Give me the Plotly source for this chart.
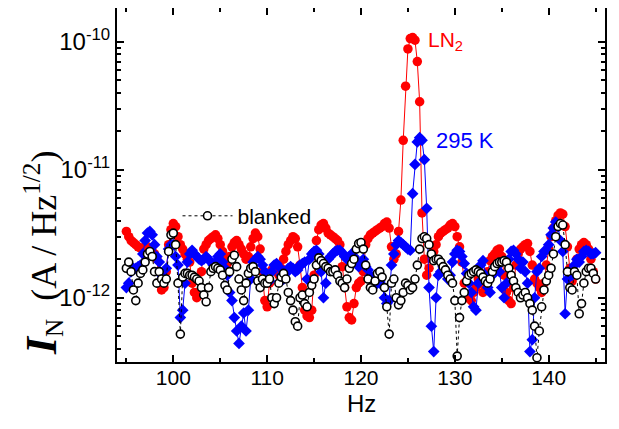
import numpy as np
import plotly.graph_objects as go

# frequency grid (Hz), 0.25 Hz bins from 95 to 145
freq_start, freq_step, n_pts = 95.0, 0.25, 201
freq = np.round(freq_start + freq_step * np.arange(n_pts), 2)

# noise current density in units of 1e-12 A/Hz^1/2
ln2 = [
    3.3, 3.0, 2.8, 2.7, 2.6, 2.5, 2.45, 2.4,            # 95-96.75
    2.5, 2.5, 2.4, 2.3, 2.2, 2.0, 1.3, 1.15,            # 97-98.75
    1.2, 1.6, 2.6, 3.4, 3.8, 3.6, 3.0, 2.6,             # 99-100.75
    2.4, 2.2, 2.0, 1.9, 1.3, 1.1, 1.0, 1.1,             # 101-102.75
    1.6, 2.4, 2.6, 2.8, 2.9, 3.0, 3.1, 2.9,             # 103-104.75
    2.6, 2.3, 2.0, 1.85, 2.1, 2.5, 2.7, 2.8,            # 105-106.75
    2.6, 2.4, 2.2, 2.0, 2.1, 2.5, 2.9, 3.2,             # 107-108.75
    3.0, 2.4, 1.6, 0.95, 0.85, 1.3, 1.65, 1.75,         # 109-110.75
    1.6, 1.5, 1.7, 2.0, 2.3, 2.6, 2.8, 3.0,             # 111-112.75
    2.9, 2.5, 1.8, 1.2, 0.8, 0.72, 0.7, 0.8,            # 113-114.75
    1.5, 2.8, 3.4, 3.7, 3.8, 3.5, 3.2, 3.1,             # 115-116.75
    3.0, 2.9, 2.8, 2.6, 1.75, 1.2, 0.85, 0.7,           # 117-118.75
    0.67, 0.9, 1.2, 1.3, 1.35, 1.6, 2.6, 2.9,           # 119-120.75
    3.1, 3.2, 3.3, 3.4, 3.5, 3.6, 3.8, 3.9,             # 121-122.75
    3.5, 2.5, 2.0, 2.2, 3.3, 5.8, 17.0, 45.0,           # 123-124.75
    88.0, 106.0, 108.0, 103.0, 70.0, 34.0, 4.6, 2.0,    # 125-126.75
    1.5, 1.7, 2.0, 2.3, 2.6, 3.0, 3.2, 3.3,             # 127-128.75
    3.4, 3.5, 3.7, 3.8, 3.6, 3.0, 2.5, 1.9,             # 129-130.75
    1.3, 1.0, 1.05, 0.95, 1.1, 1.2, 1.4, 1.3,           # 131-132.75
    1.1, 1.3, 1.6, 1.95, 2.1, 2.2, 2.35, 2.4,           # 133-134.75
    2.1, 1.5, 1.1, 0.95, 0.9, 1.2, 1.8, 2.2,            # 135-136.75
    2.4, 2.5, 2.6, 2.65, 2.3, 1.8, 1.4, 1.3,            # 137-138.75
    1.2, 1.1, 1.3, 1.8, 2.4, 3.0, 3.5, 4.0,             # 139-140.75
    4.4, 4.6, 4.5, 3.6, 2.5, 1.7, 1.35, 1.5,            # 141-142.75
    2.0, 2.4, 2.6, 2.7, 2.6, 2.4, 2.0, 1.6,             # 143-144.75
    1.4,                                                # 145
]

room = [
    1.2, 1.3, 1.6, 1.7, 1.7, 1.75, 1.8, 2.2,            # 95
    2.8, 3.2, 3.3, 3.1, 2.6, 2.1, 1.9, 1.5,             # 97
    1.4, 1.7, 2.4, 2.6, 2.6, 2.1, 1.8, 0.7,             # 99
    0.8, 1.3, 1.9, 2.2, 2.35, 2.2, 2.1, 2.0,            # 101
    1.95, 2.0, 2.1, 2.0, 1.9, 1.8, 1.9, 2.1,            # 103
    2.2, 1.9, 1.7, 1.5, 1.1, 0.95, 0.7, 0.55,           # 105
    0.44, 0.6, 0.76, 0.55, 0.8, 1.4, 1.9, 2.0,          # 107
    2.1, 2.0, 1.8, 1.6, 1.4, 1.35, 1.6, 1.8,            # 109
    1.85, 1.75, 1.5, 1.4, 1.55, 1.7, 1.75, 1.7,         # 111
    1.6, 1.65, 1.8, 1.85, 1.9, 1.4, 2.0, 2.2,           # 113
    2.3, 2.35, 2.2, 1.6, 1.0, 1.3, 2.0, 2.1,            # 115
    2.2, 2.3, 2.35, 2.35, 2.25, 2.1, 2.0, 2.1,          # 117
    2.2, 2.1, 1.95, 1.75, 1.9, 2.0, 1.75, 1.65,         # 119
    1.5, 1.4, 1.35, 1.3, 1.35, 1.25, 1.0, 0.9,          # 121
    0.95, 1.8, 2.2, 2.6, 2.8, 2.7, 2.6, 2.5,            # 123
    2.4, 2.35, 6.5, 11.0, 16.5, 17.8, 17.0, 12.0,       # 125
    5.0, 1.2, 0.6, 0.38, 1.0, 1.5, 1.6, 1.75,           # 127
    1.6, 1.4, 1.5, 1.9, 2.2, 2.35, 2.3, 2.1,            # 129
    1.85, 1.55, 1.3, 1.1, 0.85, 0.8, 1.3, 1.8,          # 131
    1.95, 1.5, 1.2, 1.1, 1.5, 1.75, 1.75, 1.6,          # 133
    1.2, 1.0, 1.3, 2.0, 2.3, 2.35, 2.2, 2.0,            # 135
    1.7, 1.9, 1.6, 1.3, 0.38, 0.47, 1.0, 1.6,           # 137
    1.7, 2.1, 2.3, 2.35, 2.6, 3.1, 3.5, 3.9,            # 139
    3.6, 2.8, 2.3, 0.75, 1.4, 1.6, 1.5, 1.8,            # 141
    2.0, 1.9, 2.1, 2.3, 2.35, 2.3, 2.2, 2.2,            # 143
    2.25,                                               # 145
]

blanked = [
    1.7, 1.9, 1.6, 1.15, 0.95, 1.3, 1.55, 1.65,         # 95
    1.9, 2.2, 2.3, 2.1, 1.6, 1.3, 1.6, 1.4,             # 97
    1.3, 1.4, 2.3, 3.1, 3.2, 2.6, 1.3, 0.52,            # 99
    1.45, 1.55, 1.55, 1.5, 1.5, 1.45, 1.4, 1.35,        # 101
    1.2, 1.05, 0.93, 1.2, 1.6, 1.7, 1.75, 1.7,          # 103
    1.65, 1.5, 1.25, 1.15, 1.6, 2.0, 2.15, 1.75,        # 105
    1.4, 1.15, 0.95, 1.3, 1.55, 1.7, 1.75, 1.6,         # 107
    1.35, 1.2, 1.4, 1.3, 1.3, 1.4, 1.0, 0.9,            # 109
    1.0, 1.3, 1.45, 1.55, 1.4, 1.1, 0.95, 0.8,          # 111
    0.65, 0.6, 1.0, 1.05, 0.9, 0.85, 1.1, 1.25,         # 113
    1.4, 1.8, 2.05, 1.95, 1.85, 1.75, 1.7, 1.6,         # 115
    1.6, 1.65, 1.5, 1.35, 1.3, 1.2, 1.4, 1.7,           # 117
    1.85, 2.0, 2.4, 2.65, 2.7, 2.4, 1.8, 1.4,           # 119
    1.2, 1.15, 1.35, 1.55, 1.6, 1.45, 1.2, 0.85,        # 121
    0.52, 1.3, 1.4, 1.0, 0.88, 0.95, 1.1, 1.3,          # 123
    1.25, 1.15, 1.2, 1.4, 1.8, 2.4, 2.9, 3.0,           # 125
    2.9, 2.6, 2.2, 1.95, 2.0, 2.0, 1.9, 1.75,           # 127
    1.65, 1.5, 1.4, 1.3, 0.95, 0.35, 0.7, 0.95,         # 129
    1.1, 1.35, 1.5, 1.55, 1.6, 1.65, 1.6, 1.55,         # 131
    1.45, 1.35, 1.3, 1.4, 1.6, 1.75, 1.85, 1.9,         # 133
    1.9, 1.95, 1.9, 1.7, 1.5, 1.35, 1.2, 1.1,           # 135
    1.0, 1.05, 1.1, 1.0, 0.9, 0.8, 0.6, 0.34,           # 137
    0.55, 0.85, 1.15, 1.35, 1.5, 1.7, 2.2, 3.0,         # 139
    3.6, 3.8, 3.7, 2.6, 1.6, 1.2, 1.15, 1.6,            # 141
    1.5, 0.75, 0.9, 1.3, 1.6, 1.7, 1.7, 1.55,           # 143
    1.4,                                                # 145
]

unit = 1e-12
x_major = [100, 110, 120, 130, 140]
y_major = [1e-12, 1e-11, 1e-10]
y_major_text = ["10<sup>-12</sup>", "10<sup>-11</sup>", "10<sup>-10</sup>"]
y_minor = [m * 10.0 ** e for e in (-13, -12, -11) for m in range(2, 10)]

RED, BLUE = "#ff0000", "#0000ff"

fig = go.Figure()
fig.add_trace(go.Scatter(
    x=freq, y=np.array(ln2) * unit, mode="lines+markers", name="LN2",
    line=dict(color=RED, width=1), marker=dict(symbol="circle", size=9.5, color=RED),
    showlegend=False))
fig.add_trace(go.Scatter(
    x=freq, y=np.array(room) * unit, mode="lines+markers", name="295 K",
    line=dict(color=BLUE, width=1), marker=dict(symbol="diamond", size=9, color=BLUE),
    showlegend=False))
fig.add_trace(go.Scatter(
    x=freq, y=np.array(blanked) * unit, mode="lines+markers", name="blanked",
    line=dict(color="black", width=1, dash="dot"),
    marker=dict(symbol="circle", size=8, color="white", line=dict(color="black", width=1.6)),
    showlegend=True))

font_sans = "Liberation Sans, Arial, sans-serif"
font_serif = "Liberation Serif, Times New Roman, serif"

# the page body adds an 8 px offset; figure is sized to fill the rest of the window
fig.update_layout(
    width=611, height=421,
    margin=dict(l=109, r=14, t=0, b=67, autoexpand=False),
    paper_bgcolor="white", plot_bgcolor="white",
    font=dict(family=font_sans, size=22, color="black"),
    legend=dict(x=0.124, y=0.412, xanchor="left", yanchor="middle",
                bgcolor="rgba(0,0,0,0)", font=dict(size=21, family=font_sans),
                itemwidth=50, tracegroupgap=0),
    annotations=[
        dict(x=126.9, y=-9.99, xref="x", yref="y", text="LN<sub>2</sub>", showarrow=False,
             xanchor="left", yanchor="middle", font=dict(color=RED, size=21, family=font_sans)),
        dict(x=127.8, y=-10.77, xref="x", yref="y", text="295 K", showarrow=False,
             xanchor="left", yanchor="middle", font=dict(color=BLUE, size=22, family=font_sans)),
        dict(x=-0.152, y=0.31, xref="paper", yref="paper", textangle=-90, showarrow=False,
             xanchor="center", yanchor="middle",
             text=("<b><i><span style='font-size:44px'>I</span></i></b><sub>N</sub>"
                   "&nbsp; (A / Hz<sup>1/2</sup>)"),
             font=dict(size=36, family=font_serif, color="black")),
        dict(x=0.5, y=-0.116, xref="paper", yref="paper", text="Hz", showarrow=False,
             xanchor="center", yanchor="middle",
             font=dict(size=24, family=font_sans, color="black")),
    ],
)

fig.update_xaxes(
    range=[94, 146], tickmode="array", tickvals=x_major,
    ticks="inside", ticklen=7, tickwidth=1.5, tickcolor="black",
    showline=True, linewidth=2, linecolor="black", mirror="ticks",
    showgrid=False, zeroline=False,
    tickfont=dict(size=21, family=font_sans), ticklabelstandoff=-4,
    minor=dict(tickmode="linear", tick0=95, dtick=10, ticks="inside", ticklen=4,
               tickwidth=1.5, tickcolor="black", showgrid=False),
)
fig.update_yaxes(
    type="log", range=[-12.502, -9.736], tickmode="array",
    tickvals=y_major, ticktext=y_major_text,
    ticks="inside", ticklen=7, tickwidth=1.5, tickcolor="black",
    showline=True, linewidth=2, linecolor="black", mirror="ticks",
    showgrid=False, zeroline=False,
    tickfont=dict(size=24, family=font_sans),
    minor=dict(tickmode="array", tickvals=y_minor, ticks="inside", ticklen=4,
               tickwidth=1.5, tickcolor="black", showgrid=False),
)

fig.write_html("out.html")
